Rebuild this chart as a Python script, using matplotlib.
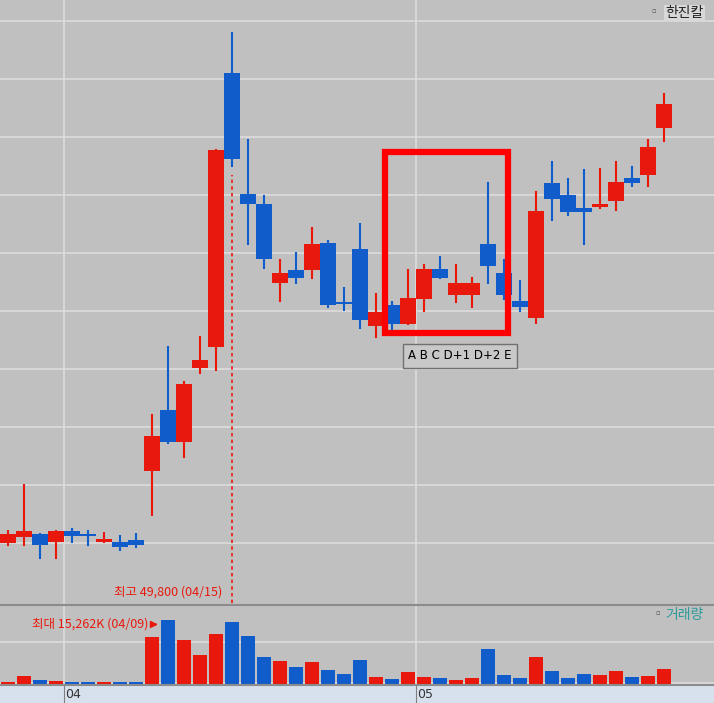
import matplotlib
matplotlib.use("Agg")
import matplotlib.pyplot as plt
from matplotlib.patches import Rectangle

plt.rcParams['font.family'] = ['Noto Sans CJK KR', 'DejaVu Sans']

opens  = [32200,32400,32500,32250,32600,32500,32250,32250,32300,34700,36800,35700,38250,38950,48400,44250,43900,41150,41600,41600,42550,40500,42350,39700,40400,39750,40600,41650,40750,40750,42500,41500,40550,39950,44600,44200,43750,43800,44000,44800,44900,46500]
highs  = [32600,34200,32500,32600,32700,32600,32550,32450,32500,36600,38950,37750,39300,45750,49800,46100,44150,41950,42200,43050,42600,41000,43200,40800,40500,41600,41800,42050,41800,41350,44600,41950,41250,44300,45350,44750,45050,45100,45350,45150,46100,47700]
lows   = [32150,32150,31700,31700,32250,32150,32250,31950,32050,33150,35650,35150,38050,38150,45200,42500,41700,40550,41150,41350,40350,40250,39600,39300,39500,39750,40200,41350,40500,40350,41150,40600,40200,39800,43350,43500,42500,43750,43700,44500,44500,46050]
closes = [32500,32600,32150,32600,32450,32450,32350,32050,32150,35900,35700,37700,38500,45750,45450,43900,42000,41500,41350,42500,40400,40450,39900,40150,39750,40650,41650,41350,41150,41150,41750,40750,40350,43650,44050,43600,43600,43900,44650,44600,45850,47350]
volumes_k = [477,1908,954,716,477,477,477,477,477,11210,15262,10494,6917,11925,14787,11448,6440,5486,4055,5247,3339,2385,5724,1670,1193,2862,1670,1431,954,1431,8348,2147,1431,6440,3101,1431,2385,2147,3101,1670,1908,3578]
month_labels = ["04", "05"]
month_start_idx = [4, 26]
max_high_idx = 14
max_vol_idx = 10

RED = "#e8190c"; BLUE = "#115ccb"; BG = "#c0c0c0"; GRID = "#dcdcdc"
W, H = 714, 703
fig = plt.figure(figsize=(W/100, H/100), dpi=100, facecolor=BG)
n = len(opens)
xl = (-0.5, (W-8)/16)

def box(top, bottom):
    return [0, (H-bottom)/H, 1, (bottom-top)/H]

ax = fig.add_axes(box(0, 605)); ax.set_facecolor(BG)
axv = fig.add_axes(box(606, 684)); axv.set_facecolor(BG)
axd = fig.add_axes(box(685, 703)); axd.set_facecolor("#d7e1ee")
for a in (ax, axv, axd):
    a.set_xlim(xl)
    a.set_xticks([]); a.set_yticks([])
    for s in a.spines.values():
        s.set_visible(False)

ax.set_ylim(30064, 50924)
for g in range(32200, 50201, 2000):
    ax.axhline(g, color=GRID, lw=1.2, zorder=0)
for m in month_start_idx:
    for a in (ax, axv):
        a.axvline(m - 0.5, color=GRID, lw=1.2, zorder=0)
    axd.axvline(m - 0.5, color="#808080", lw=0.8)

for i in range(n):
    o, h, l, c = opens[i], highs[i], lows[i], closes[i]
    col = RED if c >= o else BLUE
    ax.plot([i, i], [l, h], color=col, lw=1.5, zorder=2)
    bot, top = min(o, c), max(o, c)
    if top - bot < 60:
        top = bot + 60
    ax.add_patch(Rectangle((i-0.47, bot), 0.94, top-bot, color=col, zorder=3, lw=0))
    axv.bar(i, volumes_k[i], width=0.92, color=col, zorder=2)

# max high marker
ax.plot([max_high_idx, max_high_idx], [30150, lows[max_high_idx]-300], color=RED, ls=(0, (2, 2)), lw=1.2, zorder=1)
ax.text(max_high_idx - 0.6, 30300, f"최고 {highs[max_high_idx]:,} (04/15)", color=RED, fontsize=9, ha="right", va="bottom")
ax.add_patch(Rectangle((23.55, 39450), 7.7, 6230, fill=False, ec="#ff0000", lw=4.5, zorder=4))
ax.text(25.0, 38650, "A B C D+1 D+2 E", fontsize=8.5, ha="left", va="center", family=['Liberation Sans Narrow', 'DejaVu Sans'],
        bbox=dict(boxstyle="square,pad=0.45", fc="#c8c8c8", ec="#707070", lw=1))
ax.text(0.985, 0.99, "한진칼", transform=ax.transAxes, ha="right", va="top", fontsize=10, color="#222222",
        bbox=dict(boxstyle="square,pad=0.1", fc="#d8d8d8", ec="none"))
ax.text(0.925, 0.99, "▫", transform=ax.transAxes, ha="right", va="top", fontsize=9, color="#666666")

axv.set_ylim(0, 18600)
axv.axhline(10000, color=GRID, lw=1.2, zorder=0)
axv.axhline(150, color=GRID, lw=1.2, zorder=0)
axv.annotate("", xy=(max_vol_idx - 0.45, volumes_k[max_vol_idx]*0.93), xytext=(max_vol_idx - 1.1, volumes_k[max_vol_idx]*0.93),
             arrowprops=dict(arrowstyle="-|>", color=RED, lw=1.2))
axv.text(max_vol_idx - 1.2, volumes_k[max_vol_idx]*0.93, f"최대 {volumes_k[max_vol_idx]:,}K (04/09)", color=RED, fontsize=9, ha="right", va="center")
axv.text(0.985, 0.97, "거래량", transform=axv.transAxes, ha="right", va="top", fontsize=10, color="#2e9b9b")
axv.text(0.93, 0.97, "▫", transform=axv.transAxes, ha="right", va="top", fontsize=9, color="#666666")

fig.add_artist(plt.Line2D([0, 1], [(H-605)/H]*2, color="#8c8c8c", lw=1.5))
fig.add_artist(plt.Line2D([0, 1], [(H-685)/H]*2, color="#8c8c8c", lw=1.5))
for lab, m in zip(month_labels, month_start_idx):
    axd.text(m - 0.45, 0.5, lab, fontsize=9, va="center", ha="left", color="#333333", family=['Liberation Sans Narrow', 'DejaVu Sans'])
axd.set_ylim(0, 1)

fig.savefig("out.png", dpi=100, facecolor=BG)
